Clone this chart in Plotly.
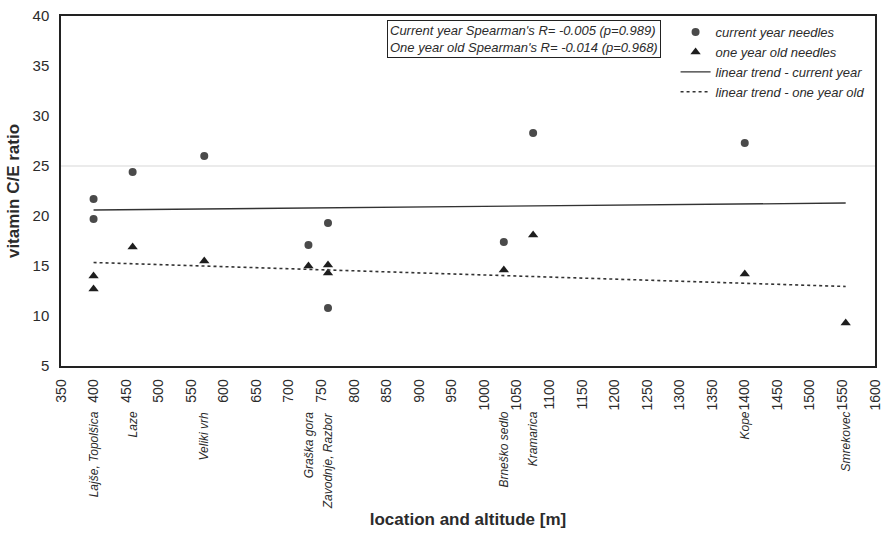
import plotly.graph_objects as go

# ---- data ----
cur_alt = [400, 400, 460, 570, 730, 760, 760, 1030, 1075, 1400]
cur_val = [21.7, 19.7, 24.4, 26.0, 17.1, 19.3, 10.8, 17.4, 28.3, 27.3]

old_alt = [400, 400, 460, 570, 730, 760, 760, 1030, 1075, 1400, 1555]
old_val = [14.0, 12.7, 16.9, 15.5, 15.0, 15.1, 14.3, 14.6, 18.1, 14.2, 9.3]

trend_alt = [400, 1555]
trend_cur = [20.6, 21.3]
trend_old = [15.35, 12.95]

loc_names = ["Lajše, Topolšica", "Laze", "Veliki vrh", "Graška gora",
             "Zavodnje, Razbor", "Brneško sedlo", "Kramarica", "Kope", "Smrekovec"]
loc_alt = [400, 460, 570, 730, 760, 1030, 1075, 1400, 1555]

x_ticks = list(range(350, 1601, 50))
y_ticks = list(range(5, 41, 5))

stats_lines = ["Current year Spearman's R= -0.005 (p=0.989)",
               "One year old Spearman's R= -0.014 (p=0.968)"]

FONT = "Liberation Sans, Arial, sans-serif"
INK = "#2b2b2b"

fig = go.Figure()

fig.add_trace(go.Scatter(
    x=cur_alt, y=cur_val, mode="markers", name="<i>current year needles</i>",
    marker=dict(symbol="circle", size=8, color="#4a4a4a"),
))
fig.add_trace(go.Scatter(
    x=old_alt, y=old_val, mode="markers", name="<i>one year old needles</i>",
    marker=dict(symbol="triangle-up", size=9, color="#1e1e1e"),
))
fig.add_trace(go.Scatter(
    x=trend_alt, y=trend_cur, mode="lines", name="<i>linear trend - current year</i>",
    line=dict(color="#333333", width=1.3),
))
fig.add_trace(go.Scatter(
    x=trend_alt, y=trend_old, mode="lines", name="<i>linear trend - one year old</i>",
    line=dict(color="#333333", width=1.6, dash="dot"),
))

# faint horizontal line visible in the reference
fig.add_hline(y=25, line=dict(color="#e4e4e4", width=1.5), layer="below")

# stats box
fig.add_annotation(
    xref="paper", yref="paper", x=0.401, y=0.99, xanchor="left", yanchor="top",
    text="<br>".join(f"<i>{s}</i>" for s in stats_lines),
    showarrow=False, align="left",
    font=dict(family=FONT, size=13, color=INK),
    bordercolor="#222222", borderwidth=1, borderpad=2, bgcolor="white",
)

# location labels under the axis
for name, alt in zip(loc_names, loc_alt):
    fig.add_annotation(
        x=alt, xref="x", y=-0.125, yref="paper", xanchor="center", yanchor="top",
        text=f"<i>{name}</i>", textangle=-90, showarrow=False,
        font=dict(family=FONT, size=12, color=INK),
    )

fig.update_layout(
    width=890, height=534,
    margin=dict(l=61, r=7, t=13, b=168),
    paper_bgcolor="white", plot_bgcolor="white",
    font=dict(family=FONT, color=INK),
    showlegend=True,
    legend=dict(
        x=0.755, y=0.997, xanchor="left", yanchor="top",
        bgcolor="rgba(0,0,0,0)", borderwidth=0,
        font=dict(family=FONT, size=13, color=INK),
        itemwidth=30, tracegroupgap=0,
    ),
    xaxis=dict(
        range=[350, 1600], tickmode="array", tickvals=x_ticks,
        ticktext=[str(v) for v in x_ticks], tickangle=-90,
        tickfont=dict(family=FONT, size=14, color=INK),
        showgrid=False, zeroline=False, ticks="",
        showline=True, linecolor="#222222", linewidth=1.5, mirror=True,
        ticklabelstandoff=6,
        title=dict(text="<b>location and altitude [m]</b>",
                   font=dict(family=FONT, size=17, color=INK), standoff=104),
    ),
    yaxis=dict(
        range=[5, 40], tickmode="array", tickvals=y_ticks,
        tickfont=dict(family=FONT, size=15, color=INK),
        showgrid=False, zeroline=False, ticks="",
        showline=True, linecolor="#222222", linewidth=1.5, mirror=True,
        ticklabelstandoff=7,
        title=dict(text="<b>vitamin C/E ratio</b>",
                   font=dict(family=FONT, size=17, color=INK), standoff=9),
    ),
)

fig.write_html("out.html")
